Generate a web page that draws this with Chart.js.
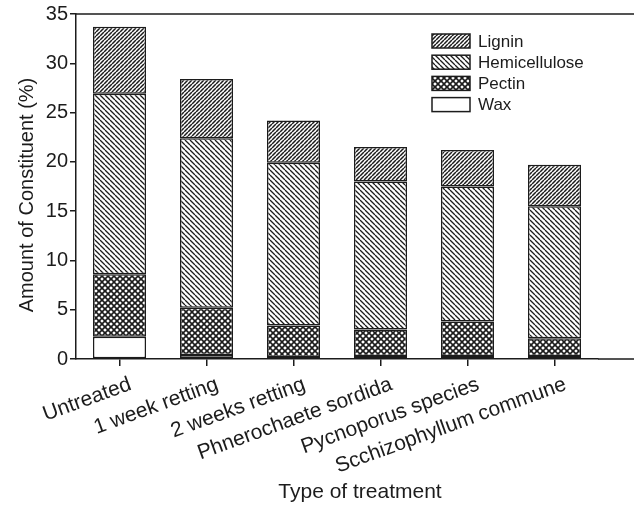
<!DOCTYPE html>
<html>
<head>
<meta charset="utf-8">
<script src="https://cdn.jsdelivr.net/npm/chart.js@4"></script>
<style>
  html, body { margin: 0; padding: 0; background: #fff; }
</style>
</head>
<body>
<canvas id="myChart" width="634" height="509"></canvas>
<script>
const categories = ['Untreated', '1 week retting', '2 weeks retting', 'Phnerochaete sordida', 'Pycnoporus species', 'Scchizophyllum commune'];
const wax = [2.25, 0.4, 0.2, 0.3, 0.3, 0.3];
const pectin = [6.35, 4.8, 3.2, 2.7, 3.5, 1.8];
const hemicellulose = [18.3, 17.2, 16.5, 15.0, 13.7, 13.4];
const lignin = [6.8, 6.0, 4.3, 3.5, 3.7, 4.2];
const yTicks = [0, 5, 10, 15, 20, 25, 30, 35];
const xTitle = 'Type of treatment';
const yTitle = 'Amount of Constituent (%)';

const ink = '#1c1c1c';
const family = '"Liberation Sans", Arial, Helvetica, sans-serif';

// hatch fills
function hatch(size, dirs, width) {
  const c = document.createElement('canvas');
  c.width = size; c.height = size;
  const g = c.getContext('2d');
  g.fillStyle = '#fff';
  g.fillRect(0, 0, size, size);
  g.strokeStyle = ink;
  g.lineWidth = width;
  for (const d of dirs) {
    g.beginPath();
    for (let k = -1; k <= 1; k++) {
      if (d === '/') { g.moveTo(k * size, size); g.lineTo(k * size + size, 0); }
      else { g.moveTo(k * size, 0); g.lineTo(k * size + size, size); }
    }
    g.stroke();
  }
  return g.createPattern(c, 'repeat');
}

const fills = {
  lignin: hatch(4, ['/'], 1.5),
  hemi: hatch(5, ['\\'], 1.3),
  pectin: hatch(6, ['/', '\\'], 1.6),
  wax: '#ffffff'
};

const data = {
  labels: categories,
  datasets: [
    { label: 'Wax', data: wax, backgroundColor: fills.wax },
    { label: 'Pectin', data: pectin, backgroundColor: fills.pectin },
    { label: 'Hemicellulose', data: hemicellulose, backgroundColor: fills.hemi },
    { label: 'Lignin', data: lignin, backgroundColor: fills.lignin }
  ].map(d => Object.assign(d, {
    borderColor: ink,
    borderWidth: 1.5,
    borderSkipped: false,
    categoryPercentage: 1,
    barPercentage: 0.61
  }))
};

// legend drawn inside the plot, top right, Lignin first
const boxLegend = {
  id: 'boxLegend',
  afterDraw(chart) {
    const ctx = chart.ctx;
    const sets = chart.data.datasets.slice().reverse();
    ctx.save();
    ctx.font = '17px ' + family;
    ctx.textBaseline = 'middle';
    sets.forEach((ds, i) => {
      const y = 41 + i * 21.2;
      ctx.fillStyle = ds.backgroundColor;
      ctx.fillRect(432, y - 7, 38, 14);
      ctx.strokeStyle = ink;
      ctx.lineWidth = 1.5;
      ctx.strokeRect(432, y - 7, 38, 14);
      ctx.fillStyle = ink;
      ctx.fillText(ds.label, 478, y + 1);
    });
    ctx.restore();
  }
};

// top frame line, axis line running on to the right edge, axis titles
const frame = {
  id: 'frame',
  afterDraw(chart) {
    const {ctx, chartArea: a, width} = chart;
    ctx.save();
    ctx.strokeStyle = ink;
    ctx.lineWidth = 1.5;
    ctx.beginPath();
    ctx.moveTo(a.left, a.top);
    ctx.lineTo(width, a.top);
    ctx.moveTo(a.right, a.bottom);
    ctx.lineTo(width, a.bottom);
    ctx.stroke();

    ctx.fillStyle = ink;
    ctx.font = '21px ' + family;
    ctx.textAlign = 'center';
    ctx.textBaseline = 'middle';
    ctx.fillText(xTitle, 360, 492);
    ctx.translate(27, 195);
    ctx.rotate(-Math.PI / 2);
    ctx.font = '20px ' + family;
    ctx.fillText(yTitle, 0, 0);
    ctx.restore();
  }
};

const config = {
  type: 'bar',
  data: data,
  options: {
    responsive: false,
    devicePixelRatio: 1,
    animation: false,
    layout: { padding: { top: 12, right: 36, left: 0, bottom: 0 } },
    plugins: { legend: { display: false }, tooltip: { enabled: false } },
    scales: {
      x: {
        stacked: true,
        grid: { drawOnChartArea: false, offset: false, tickLength: 7, color: ink, lineWidth: 1.5 },
        border: { display: true, color: ink, width: 1.5 },
        ticks: {
          autoSkip: false, minRotation: 20, maxRotation: 20, padding: 6, labelOffset: 11,
          color: ink, font: { family: family, size: 21 }
        },
        afterFit(s) { s.height = 150; }
      },
      y: {
        stacked: true,
        min: 0,
        max: 35,
        grid: { drawOnChartArea: false, tickLength: 6, color: ink, lineWidth: 1.5 },
        border: { display: true, color: ink, width: 1.5 },
        ticks: {
          stepSize: 2.5, padding: 2, color: ink, font: { family: family, size: 20 },
          callback: v => yTicks.includes(v) ? String(v) : ''
        },
        afterFit(s) { s.width = 76; }
      }
    }
  },
  plugins: [boxLegend, frame]
};

const myChart = new Chart(document.getElementById('myChart'), config);
</script>
</body>
</html>
